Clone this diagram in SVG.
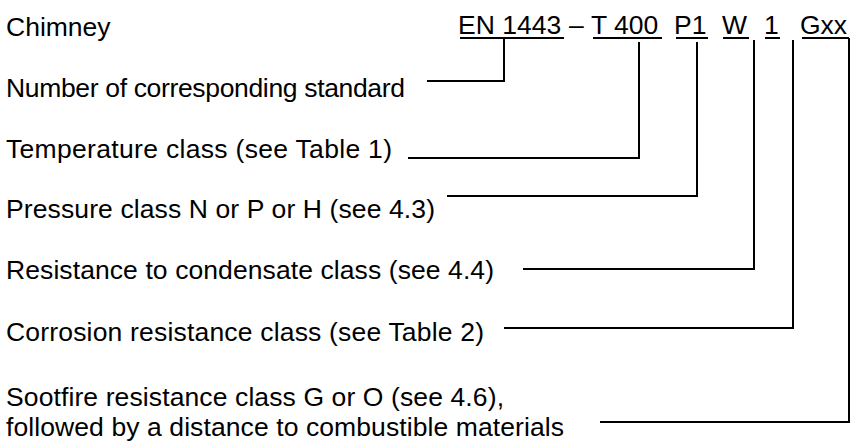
<svg xmlns="http://www.w3.org/2000/svg" width="852" height="444" viewBox="0 0 852 444">
  <style>
    text { font-family: "Liberation Sans", Arial, sans-serif; font-size: 26.5px; fill: #000; }
    .ul { stroke: #000; stroke-width: 2; fill: none; }
    .conn { stroke: #000; stroke-width: 2; fill: none; stroke-linejoin: miter; }
  </style>
  <rect width="852" height="444" fill="#fff"/>

  <!-- designation string with underlined parts -->
  <g id="designation">
    <text x="6" y="36">Chimney</text>
    <text x="458" y="34">EN 1443</text>
    <text x="569" y="34">–</text>
    <text x="591" y="34">T 400</text>
    <text x="674" y="34">P1</text>
    <text x="722" y="34">W</text>
    <text x="764" y="34">1</text>
    <text x="800" y="34">Gxx</text>
    <path class="ul" d="M460 38H564 M593 38H662 M676 38H708 M723 38H749 M765 38H780 M802 38H849"/>
  </g>

  <g id="n-standard"><text x="6" y="97" textLength="399" lengthAdjust="spacing">Number of corresponding standard</text></g>
  <g id="n-temperature"><text x="6" y="158" textLength="386" lengthAdjust="spacing">Temperature class (see Table 1)</text></g>
  <g id="n-pressure"><text x="6" y="218" textLength="429" lengthAdjust="spacing">Pressure class N or P or H (see 4.3)</text></g>
  <g id="n-condensate"><text x="6" y="279" textLength="488" lengthAdjust="spacing">Resistance to condensate class (see 4.4)</text></g>
  <g id="n-corrosion"><text x="6" y="341" textLength="478" lengthAdjust="spacing">Corrosion resistance class (see Table 2)</text></g>
  <g id="n-sootfire">
    <text x="6" y="406" textLength="498" lengthAdjust="spacing">Sootfire resistance class G or O (see 4.6),</text>
    <text x="6" y="436" textLength="558" lengthAdjust="spacing">followed by a distance to combustible materials</text>
  </g>

  <g id="connectors">
    <path class="conn" d="M427 81H504V38"/>
    <path class="conn" d="M408 158H639V42"/>
    <path class="conn" d="M447 196H697V42"/>
    <path class="conn" d="M523 269H754V40"/>
    <path class="conn" d="M504 328H793V40"/>
    <path class="conn" d="M600 422H849V38"/>
  </g>
</svg>
